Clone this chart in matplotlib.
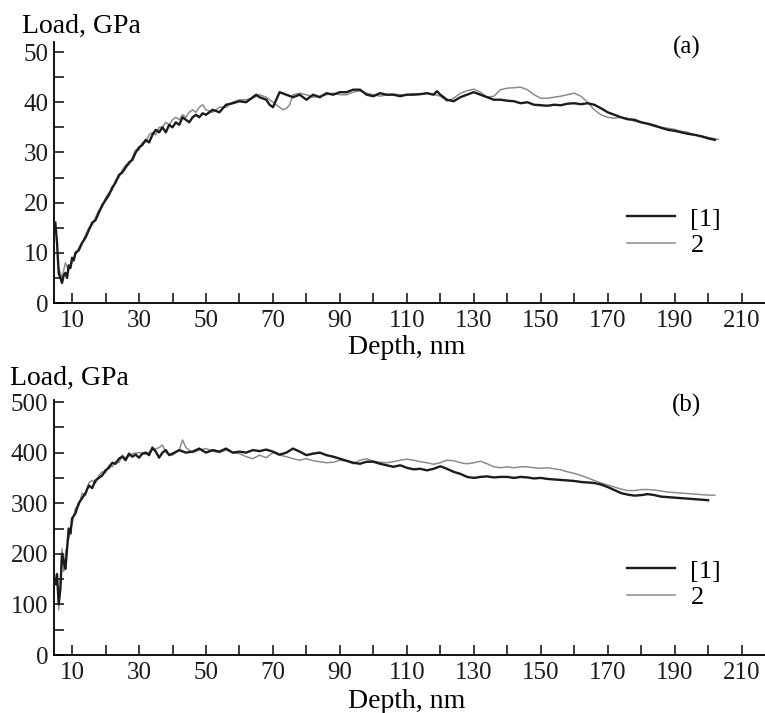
import matplotlib
matplotlib.use("Agg")
import matplotlib.pyplot as plt
from matplotlib.ticker import MultipleLocator

plt.rcParams['font.family'] = ['Liberation Serif', 'DejaVu Serif']

# (a) depth, nm / load, GPa
depth_a1 = [5, 5.5, 6, 6.5, 7, 7.5, 8, 8.5, 9, 9.5, 10, 10.5, 11, 12, 13, 14, 15, 16, 17, 18, 19, 20,
            21, 22, 23, 24, 25, 26, 27, 28, 29, 30, 31, 32, 33, 34, 35, 36, 37, 38, 39, 40, 41, 42,
            43, 44, 45, 46, 47, 48, 49, 50, 52, 54, 56, 58, 60, 62, 64, 65, 66, 68, 69, 70, 71, 72,
            74, 76, 78, 80, 82, 84, 86, 88, 90, 92, 94, 96, 98, 100, 102, 104, 106, 108, 110, 112,
            114, 116, 118, 119, 120, 121, 122, 124, 126, 128, 130, 132, 134, 136, 138, 140, 142,
            144, 146, 148, 150, 152, 154, 156, 158, 160, 162, 164, 166, 168, 170, 172, 174, 176,
            178, 180, 182, 184, 186, 188, 190, 192, 194, 196, 198, 200, 202]
load_a1 = [16, 12, 6, 5, 4, 5.5, 6, 5, 7.5, 7, 9, 8.5, 10, 10.5, 12, 13, 14.5, 16, 16.5, 18, 19.5, 20.5,
           21.5, 23, 24, 25.5, 26, 27, 28, 28.5, 30, 31, 31.5, 32.5, 32, 33.5, 34.5, 34, 35, 34, 35.5,
           35, 36, 35.5, 37, 36.5, 36, 37, 37.5, 37, 37.8, 37.5, 38.5, 38, 39.5, 39.8, 40.2, 40, 41,
           41.5, 41, 40.5, 39.5, 39, 40.5, 42, 41.5, 41, 41.5, 40.5, 41.5, 41, 41.8, 41.5, 42, 42,
           42.5, 42.5, 41.5, 41.2, 41.8, 41.5, 41.5, 41.2, 41.5, 41.5, 41.6, 41.8, 41.5, 42.2, 41.5,
           41, 40.5, 40.2, 41, 41.5, 42, 41.5, 41, 40.5, 40.5, 40.3, 40.2, 39.8, 40, 39.5, 39.4,
           39.3, 39.5, 39.4, 39.7, 39.8, 39.6, 39.8, 39.5, 38.8, 38, 37.5, 37, 36.6, 36.5, 36,
           35.7, 35.3, 34.9, 34.5, 34.3, 34, 33.7, 33.5, 33.2, 32.8, 32.5]

depth_a2 = [6, 7, 8, 9, 10, 11, 12, 13, 14, 15, 16, 17, 18, 19, 20, 21, 22, 23, 24, 25, 26, 27, 28, 29,
            30, 31, 32, 33, 34, 35, 36, 37, 38, 39, 40, 41, 42, 43, 44, 45, 46, 47, 48, 49, 50, 52,
            54, 56, 58, 60, 62, 64, 66, 68, 70, 72, 73, 74, 75, 76, 78, 80, 82, 84, 86, 88, 90, 92,
            94, 96, 98, 100, 102, 104, 106, 108, 110, 112, 114, 116, 118, 120, 122, 124, 126, 128,
            130, 132, 134, 136, 138, 140, 142, 144, 146, 148, 150, 152, 154, 156, 158, 160, 162,
            164, 166, 168, 170, 172, 174, 176, 178, 180, 182, 184, 186, 188, 190, 192, 194, 196,
            198, 200, 203]
load_a2 = [7, 5, 8, 6.5, 8, 9.5, 11, 12, 13.5, 15, 15.5, 17, 18.5, 19, 21, 22, 22.5, 24.5, 25, 26.5,
           27.5, 27.5, 29, 30.5, 30.5, 32, 32, 33.5, 34, 33.5, 35, 35, 36, 35.5, 36.5, 37, 36.5, 37.5,
           37, 38, 38.5, 38, 39, 39.5, 38.5, 38, 39, 39, 40, 40.5, 40.5, 40.8, 41.5, 41, 40, 39, 38.5,
           38.8, 39.5, 41.5, 41.8, 41.5, 41, 41.2, 41.5, 41.8, 41.5, 41.5, 42, 42.3, 41.8, 41.5, 41.2,
           41.5, 41.6, 41.5, 41.5, 41.7, 41.6, 41.8, 41.6, 41.2, 40.2, 40.8, 41.8, 42.3, 42.6, 42,
           41, 41.2, 42.5, 42.8, 42.9, 43, 42.5, 41.5, 40.8, 40.8, 41, 41.2, 41.5, 41.8, 41.2, 40,
           38.5, 37.5, 37, 36.8, 37, 36.8, 36.2, 36, 35.8, 35.5, 35, 34.8, 34.6, 34.2, 34, 33.5,
           33.3, 33, 32.6]

# (b)
depth_b1 = [5, 5.5, 6, 6.5, 7, 7.5, 8, 8.5, 9, 9.5, 10, 11, 12, 13, 14, 15, 16, 17, 18, 19, 20, 21, 22,
            23, 24, 25, 26, 27, 28, 29, 30, 31, 32, 33, 34, 35, 36, 37, 38, 39, 40, 42, 44, 46, 48,
            50, 52, 54, 56, 58, 60, 62, 64, 66, 68, 70, 72, 74, 76, 78, 80, 82, 84, 86, 88, 90, 92,
            94, 96, 98, 100, 102, 104, 106, 108, 110, 112, 114, 116, 118, 120, 122, 124, 126, 128,
            130, 132, 134, 136, 138, 140, 142, 144, 146, 148, 150, 152, 154, 156, 158, 160, 162,
            164, 166, 168, 170, 172, 174, 176, 178, 180, 182, 184, 186, 188, 190, 192, 194, 196,
            198, 200]
load_b1 = [140, 160, 100, 130, 200, 185, 170, 210, 250, 240, 270, 280, 300, 310, 320, 335, 330, 345,
           350, 355, 365, 370, 380, 378, 388, 392, 385, 398, 392, 396, 390, 398, 400, 395, 410, 402,
           390, 400, 405, 395, 398, 405, 400, 402, 408, 400, 405, 402, 408, 400, 402, 400, 405, 403,
           406, 402, 396, 400, 408, 402, 395, 398, 400, 395, 392, 388, 384, 380, 378, 382, 382, 378,
           375, 372, 375, 370, 367, 368, 365, 368, 373, 368, 362, 358, 352, 350, 352, 353, 351, 352,
           352, 350, 352, 351, 349, 350, 348, 347, 346, 345, 344, 342, 341, 340, 337, 332, 326, 320,
           317, 315, 316, 318, 316, 313, 312, 311, 310, 309, 308, 307, 306]

depth_b2 = [6, 6.5, 7, 7.5, 8, 9, 10, 11, 12, 13, 14, 15, 16, 17, 18, 19, 20, 21, 22, 23, 24, 25, 26,
            27, 28, 30, 32, 34, 36, 37, 38, 40, 42, 43, 44, 46, 48, 50, 52, 54, 56, 58, 60, 62, 64,
            66, 68, 70, 72, 74, 76, 78, 80, 82, 84, 86, 88, 90, 92, 94, 96, 98, 100, 102, 104, 106,
            108, 110, 112, 114, 116, 118, 120, 122, 124, 126, 128, 130, 132, 134, 136, 138, 140,
            142, 144, 146, 148, 150, 152, 154, 156, 158, 160, 162, 164, 166, 168, 170, 172, 174,
            176, 178, 180, 182, 184, 186, 188, 190, 192, 194, 196, 198, 200, 202]
load_b2 = [90, 140, 210, 165, 200, 230, 260, 290, 295, 320, 315, 340, 345, 340, 355, 362, 360, 375,
           372, 382, 380, 395, 390, 393, 398, 400, 397, 405, 410, 415, 400, 395, 405, 425, 410, 400,
           405, 408, 403, 400, 405, 400, 398, 392, 388, 395, 390, 400, 395, 392, 388, 385, 388, 384,
           382, 380, 381, 385, 383, 378, 385, 388, 383, 381, 380, 382, 385, 387, 385, 382, 380, 377,
           380, 385, 384, 380, 378, 380, 383, 378, 372, 370, 372, 370, 372, 372, 370, 369, 370, 368,
           366, 362, 359, 355, 350, 345, 340, 336, 332, 328, 325, 325, 327, 327, 326, 324, 322, 321,
           320, 319, 318, 317, 316, 316]

BLACK = '#1c1c1c'
GREY = '#8c8c8c'

fig = plt.figure(figsize=(7.65, 7.13), dpi=100)
ax1 = fig.add_axes([54 / 765, 1 - 303 / 713, 1 - 54 / 765, 261 / 713])
ax2 = fig.add_axes([54 / 765, 1 - 655 / 713, 1 - 54 / 765, 255.5 / 713])

panels = [
    (ax1, depth_a1, load_a1, depth_a2, load_a2, 52, 10, 5, '(a)', 0.98, 0.367),
    (ax2, depth_b1, load_b1, depth_b2, load_b2, 505, 100, 50, '(b)', 0.978, 0.375),
]

for ax, x1, y1, x2, y2, ytop, ymaj, ymin, tag, tag_y, leg_y in panels:
    ax.plot(x2, y2, color=GREY, lw=1.1, label='2', zorder=2)
    ax.plot(x1, y1, color=BLACK, lw=1.7, label='[1]', zorder=3)
    ax.set_xlim(4.6, 217)
    ax.set_ylim(0, ytop)
    for s in ['top', 'right']:
        ax.spines[s].set_visible(False)
    ax.spines['left'].set_linewidth(1.3)
    ax.spines['bottom'].set_linewidth(1.3)
    ax.xaxis.set_minor_locator(MultipleLocator(10))
    ax.yaxis.set_major_locator(MultipleLocator(ymaj))
    ax.yaxis.set_minor_locator(MultipleLocator(ymin))
    ax.tick_params(which='both', direction='in', length=7, width=1.2, color=BLACK)
    ax.tick_params(axis='both', labelsize=18, labelcolor=BLACK)
    ax.tick_params(axis='x', pad=5)
    ax.tick_params(axis='y', pad=4)
    ax.set_xticks([10, 30, 50, 70, 90, 110, 130, 150, 170, 190, 210])
    ax.text(0.89, tag_y, tag, transform=ax.transAxes, fontsize=18, ha='center', va='center')
    h, l = ax.get_legend_handles_labels()
    ax.legend(h[::-1], l[::-1], loc='upper left', bbox_to_anchor=(0.806, leg_y), frameon=False,
              fontsize=19, handlelength=1.8, handletextpad=0.6, labelspacing=0.1,
              borderpad=0, borderaxespad=0)

fig.text(22 / 765, 1 - 26 / 713, 'Load, GPa', fontsize=20, ha='left', va='center')
fig.text(407 / 765, 1 - 348 / 713, 'Depth, nm', fontsize=20, ha='center', va='center')
fig.text(10 / 765, 1 - 378 / 713, 'Load, GPa', fontsize=20, ha='left', va='center')
fig.text(407 / 765, 1 - 702 / 713, 'Depth, nm', fontsize=20, ha='center', va='center')

fig.savefig('out.png', dpi=100)
